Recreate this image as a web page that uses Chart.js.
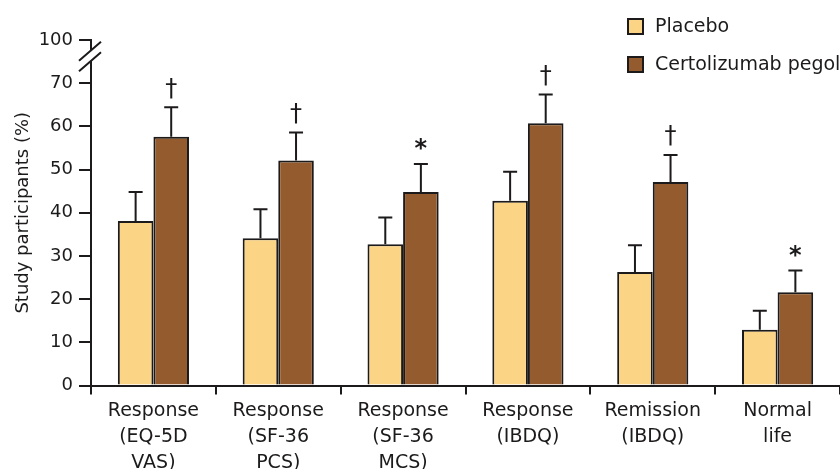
<!DOCTYPE html>
<html>
<head>
<meta charset="utf-8">
<script src="https://cdn.jsdelivr.net/npm/chart.js@4/dist/chart.umd.min.js"></script>
<style>
  html, body { margin: 0; padding: 0; background: #fff; }
  #wrap { width: 840px; height: 469px; position: relative; }
</style>
</head>
<body>
<div id="wrap"><canvas id="qolChart"></canvas></div>
<script>
// values (percent of study participants)
const categories = [
    ['Response', '(EQ-5D', 'VAS)'],
    ['Response', '(SF-36', 'PCS)'],
    ['Response', '(SF-36', 'MCS)'],
    ['Response', '(IBDQ)'],
    ['Remission', '(IBDQ)'],
    ['Normal', 'life']
];
const placebo = [38.1, 34.1, 32.7, 42.8, 26.3, 12.9];
const placeboUpper = [44.8, 40.8, 38.9, 49.5, 32.5, 17.3];
const certolizumab = [57.6, 52.1, 44.8, 60.7, 47.1, 21.6];
const certolizumabUpper = [64.4, 58.6, 51.3, 67.4, 53.4, 26.6];
const significance = ['\u2020', '\u2020', '*', '\u2020', '\u2020', '*'];
// the axis is broken between 70 and 100: position 80 carries the label "100"
const yTickLabels = { 0: '0', 10: '10', 20: '20', 30: '30', 40: '40', 50: '50', 60: '60', 70: '70', 80: '100' };

const INK = '#1c1a1a';
const PLACEBO_COLOR = '#fbd486';
const CZP_COLOR = '#945c2e';
const FONT = "'DejaVu Sans', sans-serif";

const errorBarPlugin = {
    id: 'errorBars',
    afterDatasetsDraw(chart) {
        const ctx = chart.ctx;
        const y = chart.scales.y;
        const uppers = [placeboUpper, certolizumabUpper];
        ctx.save();
        ctx.strokeStyle = INK;
        ctx.lineWidth = 2;
        uppers.forEach((upper, i) => {
            chart.getDatasetMeta(i).data.forEach((bar, j) => {
                const top = y.getPixelForValue(upper[j]);
                ctx.beginPath();
                ctx.moveTo(bar.x, bar.y);
                ctx.lineTo(bar.x, top);
                ctx.moveTo(bar.x - 7, top);
                ctx.lineTo(bar.x + 7, top);
                ctx.stroke();
            });
        });
        // significance marks above the certolizumab bars
        ctx.fillStyle = INK;
        ctx.textAlign = 'center';
        ctx.textBaseline = 'middle';
        chart.getDatasetMeta(1).data.forEach((bar, j) => {
            const top = y.getPixelForValue(certolizumabUpper[j]);
            if (significance[j] === '*') {
                ctx.font = 'bold 24px ' + FONT;
                ctx.fillText('*', bar.x, top - 14);
            } else {
                ctx.font = '24px ' + FONT;
                ctx.fillText(significance[j], bar.x, top - 18);
            }
        });
        ctx.restore();
    }
};

const axisBreakPlugin = {
    id: 'axisBreak',
    afterDraw(chart) {
        const ctx = chart.ctx;
        const y = chart.scales.y;
        const x0 = chart.chartArea.left;
        const yTop = y.getPixelForValue(80);
        const gapHigh = y.getPixelForValue(77.6);
        const gapLow = y.getPixelForValue(75.2);
        const yBottom = y.getPixelForValue(0);
        ctx.save();
        ctx.strokeStyle = INK;
        ctx.lineWidth = 2;
        ctx.beginPath();
        ctx.moveTo(x0, yTop - 1);
        ctx.lineTo(x0, gapHigh);
        ctx.moveTo(x0, gapLow);
        ctx.lineTo(x0, yBottom + 1);
        // the two slashes of the break
        [gapHigh, gapLow].forEach(yy => {
            ctx.moveTo(x0 - 12, yy + 10.5);
            ctx.lineTo(x0 + 10, yy - 8.5);
        });
        ctx.stroke();
        ctx.restore();
    }
};

const legendPlugin = {
    id: 'boxLegend',
    afterDraw(chart) {
        const ctx = chart.ctx;
        const items = [['Placebo', PLACEBO_COLOR, 19], ['Certolizumab pegol', CZP_COLOR, 57]];
        ctx.save();
        ctx.font = '19px ' + FONT;
        ctx.textBaseline = 'middle';
        items.forEach(([label, color, top]) => {
            ctx.fillStyle = color;
            ctx.fillRect(628, top, 15, 15);
            ctx.strokeStyle = INK;
            ctx.lineWidth = 2;
            ctx.strokeRect(628, top, 15, 15);
            ctx.fillStyle = INK;
            ctx.fillText(label, 655, top + 8);
        });
        ctx.restore();
    }
};

const ctx = document.getElementById('qolChart').getContext('2d');
const qolChart = new Chart(ctx, {
    type: 'bar',
    data: {
        labels: categories,
        datasets: [
            {
                label: 'Placebo',
                data: placebo,
                backgroundColor: PLACEBO_COLOR,
                borderColor: INK,
                borderWidth: 2
            },
            {
                label: 'Certolizumab pegol',
                data: certolizumab,
                backgroundColor: CZP_COLOR,
                borderColor: INK,
                borderWidth: 2
            }
        ]
    },
    options: {
        responsive: true,
        maintainAspectRatio: false,
        animation: false,
        datasets: {
            bar: { categoryPercentage: 0.57, barPercentage: 1.0 }
        },
        layout: { padding: { top: 40, right: 0, left: 0, bottom: 0 } },
        plugins: {
            legend: { display: false },
            tooltip: { enabled: false }
        },
        scales: {
            x: {
                offset: true,
                border: { display: true, color: INK, width: 2 },
                grid: {
                    offset: true,
                    drawOnChartArea: false,
                    drawTicks: true,
                    tickLength: 9,
                    color: INK,
                    lineWidth: 2
                },
                ticks: {
                    color: INK,
                    font: { family: FONT, size: 19, lineHeight: 1.35 },
                    padding: 4,
                    maxRotation: 0,
                    autoSkip: false
                },
                afterFit(scale) { scale.height = 83.5; }
            },
            y: {
                min: 0,
                max: 80,
                border: { display: false },
                grid: {
                    drawOnChartArea: false,
                    drawTicks: true,
                    tickLength: 12,
                    color: INK,
                    lineWidth: 2
                },
                ticks: {
                    stepSize: 10,
                    color: INK,
                    font: { family: FONT, size: 18 },
                    padding: 6,
                    callback: v => yTickLabels[v] !== undefined ? yTickLabels[v] : ''
                },
                title: {
                    display: true,
                    text: 'Study participants (%)',
                    color: INK,
                    font: { family: FONT, size: 18 },
                    padding: { top: 13, bottom: 0 }
                },
                afterFit(scale) { scale.width = 91; }
            }
        }
    },
    plugins: [errorBarPlugin, axisBreakPlugin, legendPlugin]
});
</script>
</body>
</html>
